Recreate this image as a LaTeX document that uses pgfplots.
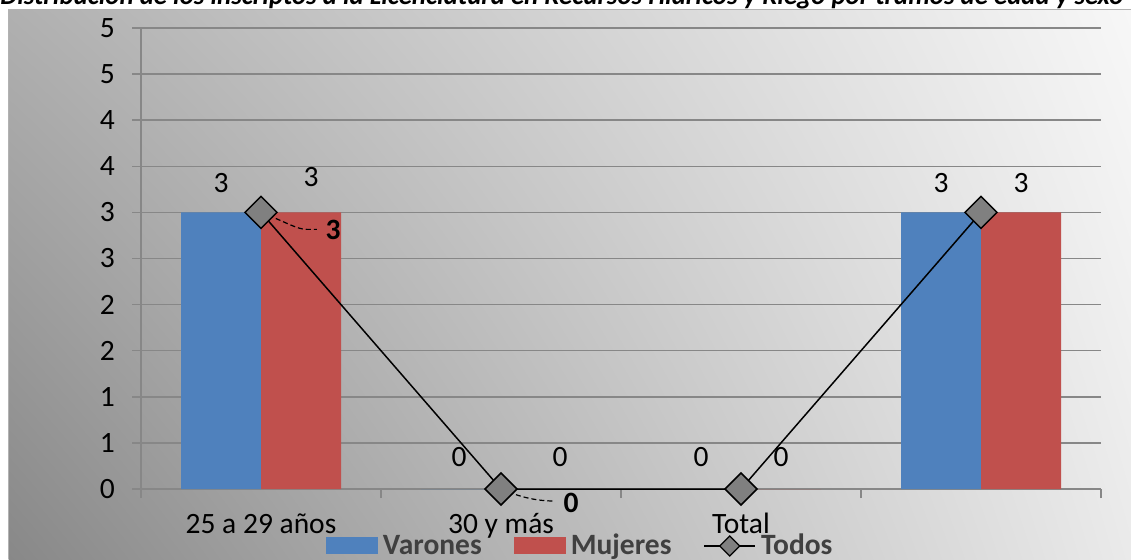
\documentclass[border=0pt]{standalone}
\usepackage{fontspec}
\setmainfont{Carlito}
\usepackage{pgfplots}
\pgfplotsset{compat=1.18}
\usepackage{pgfplotstable}
\usetikzlibrary{shadings}
\definecolor{vblue}{HTML}{4F81BD}
\definecolor{mred}{HTML}{C0504D}
\definecolor{gridgray}{HTML}{878787}
\definecolor{mgray}{HTML}{808080}
\definecolor{legendgray}{HTML}{404040}
\definecolor{bgUL}{HTML}{B0B0B0}
\definecolor{bgUR}{HTML}{F7F7F7}
\definecolor{bgLL}{HTML}{888888}
\definecolor{bgLR}{HTML}{EAEAEA}

\pgfplotstableread{
x y dx dy
1 3 -20 14.5
2 0 -21 16
3 0 -20 16
4 3 -20 14.5
}\varones
\pgfplotstableread{
x y dx dy
1 3 25 17.5
2 0 29.5 16
3 0 20 16
4 3 20 14.5
}\mujeres
\pgfplotstableread{
x y lbl dx dy
1 3 3 36 -9
2 0 0 35 -7
3 0 {} 0 0
4 3 {} 0 0
}\todos

\begin{document}
\begin{tikzpicture}
\useasboundingbox (0pt,0pt) rectangle (565.5pt,-279.5pt);
\shade[upper left=bgUL, upper right=bgUR, lower left=bgLL, lower right=bgLR]
  (4.25pt,-4.75pt) rectangle (565.5pt,-279.5pt);
\draw[gray!60, line width=0.5pt] (4.25pt,-279.5pt) -- (4.25pt,-4.75pt) -- (565.5pt,-4.75pt);
\node[anchor=base west, inner sep=0pt] at (0pt,-2pt)
  {\resizebox{561.5pt}{!}{\bfseries\itshape Distribución de los inscriptos a la Licenciatura en Recursos Hídricos y Riego por tramos de edad y sexo}};
\begin{axis}[
  at={(70.5pt,-244.5pt)}, anchor=south west,
  scale only axis, width=480pt, height=230.5pt,
  xmin=0.5, xmax=4.5, ymin=0, ymax=5,
  clip=false,
  axis x line*=bottom, axis y line*=left,
  axis line style={gridgray, line width=0.75pt},
  xtick={1,2,3,4},
  xticklabels={25 a 29 años, 30 y más, Total, {}},
  minor xtick={0.5,1.5,2.5,3.5,4.5},
  every major x tick/.append style={draw=none},
  ytick={0,0.5,1,1.5,2,2.5,3,3.5,4,4.5,5},
  yticklabels={0,1,1,2,2,3,3,4,4,5,5},
  tick align=outside,
  major tick length=4.5pt, minor tick length=4.5pt,
  tick style={gridgray, line width=0.75pt},
  ymajorgrids,
  grid style={gridgray, line width=0.75pt},
  tick label style={font=\fontsize{14.75}{17}\selectfont, text=black},
  yticklabel style={xshift=-5pt},
  xticklabel style={anchor=base, yshift=-17.5pt},
  /pgf/number format/assume math mode=true,
  legend columns=3,
  legend style={at={(axis description cs:0.1927,-0.1236)}, anchor=west,
    draw=none, fill=none, inner sep=0pt, outer sep=0pt,
    font=\bfseries\fontsize{14.75}{17}\selectfont, text=legendgray,
    nodes={inner sep=0pt},
    /tikz/every odd column/.append style={column sep=2.5pt},
    /tikz/every even column/.append style={column sep=16pt}},
]
\addplot[ybar, bar width=0.3333, bar shift=-0.16667, fill=vblue, draw=none,
  visualization depends on={\thisrow{dx} \as \dx},
  visualization depends on={\thisrow{dy} \as \dy},
  nodes near coords,
  every node near coord/.append style={anchor=center, xshift=\dx pt, yshift=\dy pt,
     font=\fontsize{14.75}{17}\selectfont, text=black},
  legend image code/.code={\fill[vblue] (0pt,-4.25pt) rectangle (26pt,4.25pt);}
] table[x=x,y=y] {\varones};
\addlegendentry{Varones}
\addplot[ybar, bar width=0.3333, bar shift=0.16667, fill=mred, draw=none,
  visualization depends on={\thisrow{dx} \as \dx},
  visualization depends on={\thisrow{dy} \as \dy},
  nodes near coords,
  every node near coord/.append style={anchor=center, xshift=\dx pt, yshift=\dy pt,
     font=\fontsize{14.75}{17}\selectfont, text=black},
  legend image code/.code={\fill[mred] (0pt,-4.25pt) rectangle (26pt,4.25pt);}
] table[x=x,y=y] {\mujeres};
\addlegendentry{Mujeres}
\addplot[black, line width=0.75pt, mark=square*, mark size=5.66pt,
  mark options={fill=mgray, draw=black, rotate=45, line width=0.75pt},
  point meta=explicit symbolic,
  visualization depends on={\thisrow{dx} \as \dx},
  visualization depends on={\thisrow{dy} \as \dy},
  nodes near coords,
  every node near coord/.append style={anchor=center, xshift=\dx pt, yshift=\dy pt,
     font=\bfseries\fontsize{14.75}{17}\selectfont, text=black},
  legend image code/.code={
    \draw[black, line width=0.75pt] (0pt,0pt) -- (25.5pt,0pt);
    \draw[black, fill=mgray, line width=0.6pt] (12.75pt,5pt) -- (17.75pt,0pt) -- (12.75pt,-5pt) -- (7.75pt,0pt) -- cycle;}
] table[x=x,y=y,meta=lbl] {\todos};
\addlegendentry{Todos}
\draw[black, line width=0.6pt, dash pattern=on 2.5pt off 1.5pt]
  (axis cs:1,3) .. controls (axis cs:1.1,2.9) and (axis cs:1.15,2.816) .. (axis cs:1.19,2.816) -- (axis cs:1.233,2.816);
\draw[black, line width=0.6pt, dash pattern=on 2.5pt off 1.5pt]
  (axis cs:2,0) .. controls (axis cs:2.08,-0.09) and (axis cs:2.15,-0.13) .. (axis cs:2.221,-0.13);
\end{axis}
\end{tikzpicture}
\end{document}
